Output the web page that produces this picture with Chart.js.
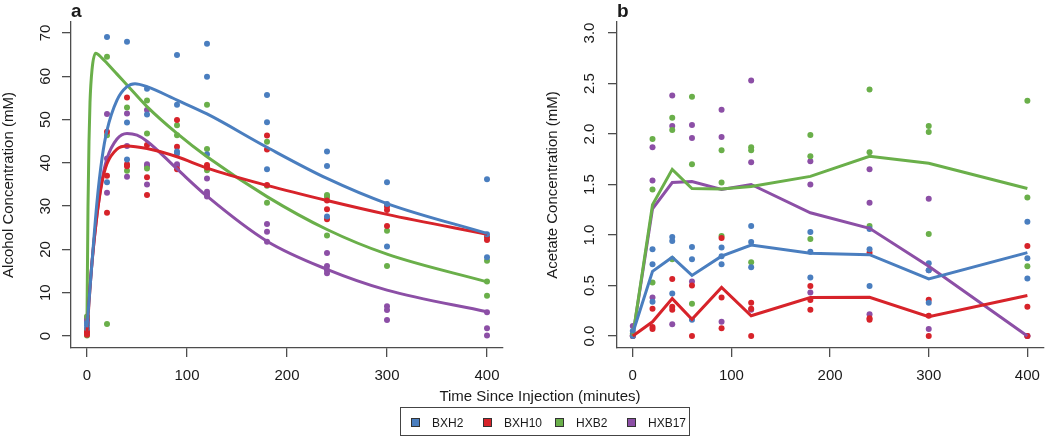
<!DOCTYPE html>
<html>
<head>
<meta charset="utf-8">
<script src="https://cdn.jsdelivr.net/npm/chart.js@4.4.1/dist/chart.umd.min.js"></script>
<style>
  body { margin:0; background:#fff; width:1050px; height:438px; position:relative; overflow:hidden;
         font-family:"Liberation Sans", Arial, sans-serif; color:#1a1a1a; }
  .panel { position:absolute; top:1px; font-weight:bold; font-size:19px; line-height:19px; }
  #xtitle { position:absolute; left:340px; width:400px; top:388px; text-align:center; font-size:15px; line-height:15px; }
  #legend { position:absolute; left:400px; top:407px; width:288px; height:27px; border:1px solid #444; }
  #legend .sw { position:absolute; top:10px; width:7px; height:7px; border:1px solid #333; }
  #legend .lb { position:absolute; top:9px; font-size:12px; line-height:12px; }
</style>
</head>
<body>
<canvas id="alcohol" width="540" height="390" style="position:absolute;left:0;top:0"></canvas>
<canvas id="acetate" width="506" height="390" style="position:absolute;left:544px;top:0"></canvas>
<div class="panel" style="left:71px">a</div>
<div class="panel" style="left:617px">b</div>
<div id="xtitle">Time Since Injection (minutes)</div>
<div id="legend"></div>

<script>
// shared things
const strains = ['BXH2', 'BXH10', 'HXB2', 'HXB17'];
const colors = ['#4a7ebf', '#d7232a', '#6aaf4a', '#8c4fa6'];
const times = [0, 20, 40, 60, 90, 120, 180, 240, 300, 400];
const xTicks = [0, 100, 200, 300, 400];
const alcTicks = [0, 10, 20, 30, 40, 50, 60, 70];
const aceTicks = [0, 0.5, 1, 1.5, 2, 2.5, 3];

// panel a - alcohol measurements [time, mM]
const alcBXH2 = [[0,2.5],[0,1.8],[0,3.0],[20,69.1],[20,35.5],[40,68.0],[40,49.3],[40,40.8],
  [60,57.1],[60,51.2],[90,64.9],[90,53.4],[90,42.6],[90,42.1],[120,67.5],[120,59.9],[120,42.0],
  [180,55.7],[180,49.4],[180,38.5],[240,42.6],[240,39.3],[240,27.6],[300,35.5],[300,30.5],[300,20.7],
  [400,36.2],[400,23.5],[400,18.2]];
const alcBXH10 = [[0,1.0],[0,0.8],[0,0.3],[20,47.2],[20,37.0],[20,28.5],[40,55.1],[40,39.7],[40,39.2],
  [60,44.1],[60,36.7],[60,32.6],[90,49.9],[90,43.7],[90,38.5],[120,39.5],[120,38.9],
  [180,46.3],[180,43.1],[180,34.9],[240,31.3],[240,29.3],[240,27.0],[300,29.9],[300,29.1],[300,25.4],
  [400,22.9],[400,22.2]];
const alcHXB2 = [[0,1.6],[0,0.1],[0,4.5],[20,64.5],[20,46.4],[20,2.8],[40,52.8],[40,38.2],
  [60,54.4],[60,46.8],[60,38.7],[90,48.7],[90,46.4],[120,53.4],[120,43.2],[120,38.3],
  [180,44.9],[180,34.7],[180,30.8],[240,32.6],[240,32.1],[240,23.2],[300,24.3],[300,16.2],
  [400,17.4],[400,12.6],[400,9.3]];
const alcHXB17 = [[0,4.3],[0,3.8],[0,3.5],[20,51.3],[20,41.0],[20,33.1],[40,51.4],[40,43.9],[40,36.8],
  [60,52.2],[60,39.7],[60,39.3],[60,35.0],[90,39.7],[90,39.4],[120,36.4],[120,33.3],[120,32.8],[120,32.2],
  [180,25.9],[180,24.1],[180,21.8],[240,19.2],[240,16.2],[240,15.2],[240,14.5],[300,6.9],[300,6.0],[300,3.7],
  [400,5.5],[400,1.8],[400,0.1]];

// panel a - fitted curves [time, mM]
const fitBXH2 = [[0,2.0],[5,17],[10,31],[15,41],[20,47.5],[30,54.5],[40,57.6],[48,58.3],[60,57.6],
  [90,54.5],[120,51.3],[180,43.6],[240,36.4],[300,30.6],[400,23.7]];
const fitBXH10 = [[0,1.0],[5,17],[10,28],[15,35.5],[20,39.8],[30,43.2],[40,43.9],[60,43.3],
  [90,41.4],[120,38.8],[180,34.8],[240,31.3],[300,28.1],[400,23.5]];
const fitHXB2 = [[0,3.5],[1,30],[2,45],[3,54],[5,61.5],[8.7,65.3],[15,64.2],[20,63.0],[30,60.5],[40,58.0],
  [60,53.0],[90,46.8],[120,41.4],[180,32.2],[240,24.6],[300,18.9],[400,12.5]];
const fitHXB17 = [[0,3.8],[5,17],[10,28],[15,36],[20,41],[30,45.5],[40,46.8],[50,46.4],[60,45.0],
  [90,38.6],[120,32.3],[180,21.9],[240,15.4],[300,10.6],[400,5.6]];

// panel b - acetate measurements [time, mM]
const aceBXH2 = [[0,0.05],[0,0.0],[20,0.86],[20,0.71],[20,0.34],[40,0.98],[40,0.94],[40,0.42],
  [60,0.88],[60,0.76],[60,0.16],[90,0.875],[90,0.79],[90,0.71],[120,1.09],[120,0.93],[120,0.68],
  [180,1.03],[180,0.835],[180,0.58],[240,1.06],[240,0.86],[240,0.495],[300,0.72],[300,0.65],[300,0.33],
  [400,1.13],[400,0.77],[400,0.57]];
const aceBXH10 = [[0,0.0],[20,0.27],[20,0.09],[20,0.07],[40,0.565],[40,0.29],[40,0.26],
  [60,0.50],[60,0.0],[90,0.97],[90,0.38],[90,0.076],[120,0.33],[120,0.27],[120,0.0],
  [180,0.495],[180,0.356],[180,0.26],[240,0.825],[240,0.175],[240,0.16],[300,0.36],[300,0.2],[300,0.0],
  [400,0.89],[400,0.29],[400,0.0]];
const aceHXB2 = [[0,0.02],[20,1.95],[20,1.45],[20,0.53],[40,2.16],[40,2.04],[40,0.76],
  [60,2.37],[60,1.70],[60,0.32],[90,1.84],[90,1.52],[90,0.99],[120,1.87],[120,1.84],[120,0.73],
  [180,1.99],[180,1.78],[180,0.96],[240,2.44],[240,1.82],[240,1.09],[300,2.08],[300,2.02],[300,1.01],
  [400,2.33],[400,1.37],[400,0.69]];
const aceHXB17 = [[0,0.10],[0,0.0],[20,1.87],[20,1.54],[20,0.38],[40,2.38],[40,2.08],[40,0.115],
  [60,2.09],[60,1.96],[60,0.54],[90,2.24],[90,1.97],[90,0.14],[120,2.53],[120,1.72],[120,0.26],
  [180,1.73],[180,1.50],[180,0.43],[240,1.65],[240,1.32],[240,0.215],[300,1.36],[300,0.65],[300,0.07],
  [400,0.0],[400,0.0]];

// panel b - mean lines, one value per entry of times
const meanBXH2 = [0.03, 0.64, 0.78, 0.60, 0.79, 0.90, 0.82, 0.805, 0.565, 0.825];
const meanBXH10 = [0.0, 0.14, 0.37, 0.165, 0.48, 0.20, 0.38, 0.383, 0.19, 0.40];
const meanHXB2 = [0.0, 1.30, 1.65, 1.46, 1.455, 1.48, 1.58, 1.78, 1.71, 1.46];
const meanHXB17 = [0.0, 1.26, 1.52, 1.53, 1.45, 1.50, 1.22, 1.066, 0.69, 0.0];

Chart.defaults.font.family = '"Liberation Sans", Arial, sans-serif';
Chart.defaults.color = '#1a1a1a';

const toXY = arr => arr.map(p => ({x: p[0], y: p[1]}));

function pointSet(pts, i) {
  return {
    type: 'scatter', data: toXY(pts), order: 2,
    pointRadius: 3, pointHoverRadius: 3, pointBorderWidth: 0,
    backgroundColor: colors[i], borderColor: colors[i]
  };
}
function lineSet(pts, i, smooth) {
  return {
    type: 'line', data: toXY(pts), order: 1, showLine: true,
    borderColor: colors[i], borderWidth: 3, pointRadius: 0, fill: false,
    cubicInterpolationMode: smooth ? 'monotone' : 'default', tension: 0
  };
}

function makePanel(id, datasets, yMin, yMax, yTicks, yTitle, yWidth, rightPad, fmt) {
  const tickGrid = { drawOnChartArea: false, drawTicks: true, tickLength: 9, color: '#4d4d4d', lineWidth: 1.3 };
  const axisLine = { display: true, color: '#4d4d4d', width: 1.3 };
  return new Chart(id, {
    type: 'scatter',
    data: { datasets: datasets },
    options: {
      responsive: false, animation: false,
      layout: { padding: { top: 22, right: rightPad, left: 0, bottom: 0 } },
      plugins: { legend: { display: false }, tooltip: { enabled: false } },
      scales: {
        x: {
          type: 'linear', min: -16, max: 416,
          afterBuildTicks: s => { s.ticks = xTicks.map(v => ({value: v})); },
          afterFit: s => { s.height = 42; },
          ticks: { font: { size: 15 }, color: '#1a1a1a', padding: 10, maxRotation: 0, autoSkip: false },
          grid: tickGrid, border: axisLine
        },
        y: {
          type: 'linear', min: yMin, max: yMax,
          afterBuildTicks: s => { s.ticks = yTicks.map(v => ({value: v})); },
          afterFit: s => { s.width = yWidth; },
          ticks: { font: { size: 15 }, color: '#1a1a1a', padding: 8, minRotation: 90, maxRotation: 90,
                   crossAlign: 'center', autoSkip: false, callback: fmt },
          title: { display: true, text: yTitle, font: { size: 15 }, color: '#1a1a1a', padding: 0 },
          grid: tickGrid, border: axisLine
        }
      }
    }
  });
}

const alcPts = [alcBXH2, alcBXH10, alcHXB2, alcHXB17];
const alcFits = [fitBXH2, fitBXH10, fitHXB2, fitHXB17];
const acePts = [aceBXH2, aceBXH10, aceHXB2, aceHXB17];
const aceMeans = [meanBXH2, meanBXH10, meanHXB2, meanHXB17];

const dsA = [];
alcPts.forEach((p, i) => dsA.push(pointSet(p, i)));
alcFits.forEach((p, i) => dsA.push(lineSet(p, i, true)));

const dsB = [];
acePts.forEach((p, i) => dsB.push(pointSet(p, i)));
aceMeans.forEach((m, i) => dsB.push(lineSet(times.map((t, k) => [t, m[k]]), i, false)));

makePanel('alcohol', dsA, -2.77, 72.54, alcTicks, 'Alcohol Concentration (mM)', 71, 37, v => String(v));
makePanel('acetate', dsB, -0.119, 3.109, aceTicks, 'Acetate Concentration (mM)', 73, 2, v => v.toFixed(1));

// legend under both panels
const legend = document.getElementById('legend');
strains.forEach((s, i) => {
  const sw = document.createElement('span');
  sw.className = 'sw';
  sw.style.left = (10 + i * 72) + 'px';
  sw.style.background = colors[i];
  const lb = document.createElement('span');
  lb.className = 'lb';
  lb.style.left = (31 + i * 72) + 'px';
  lb.textContent = s;
  legend.appendChild(sw);
  legend.appendChild(lb);
});
</script>
</body>
</html>
